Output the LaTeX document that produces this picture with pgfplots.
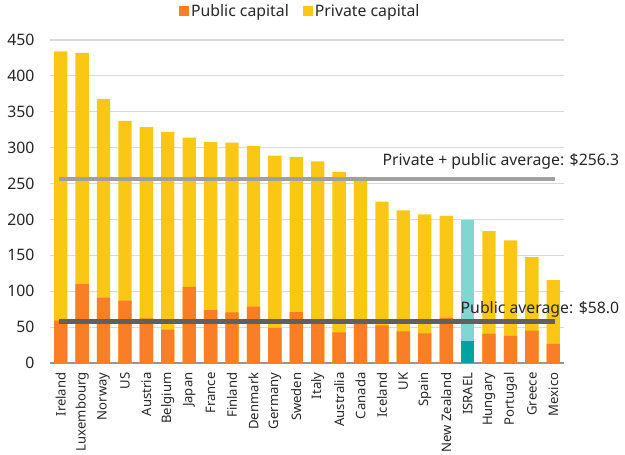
\documentclass[border=0pt]{standalone}
\usepackage{fontspec}
\setmainfont{Noto Sans}
\usepackage{pgfplots}
\usepackage{pgfplotstable}
\pgfplotsset{compat=1.18}
\definecolor{porange}{RGB}{249,126,38}
\definecolor{pyellow}{RGB}{250,199,20}
\definecolor{tdark}{RGB}{0,163,160}
\definecolor{tlight}{RGB}{128,214,211}
\definecolor{gridgray}{RGB}{217,217,217}
\definecolor{axisgray}{RGB}{150,150,150}
\definecolor{avgtop}{RGB}{160,160,160}
\definecolor{avgbot}{RGB}{96,96,96}
\definecolor{txt}{RGB}{38,38,38}
\newcommand\fs{\fontsize{15.8bp}{19bp}\selectfont}
\newcommand\fx{\fontsize{13.1bp}{15bp}\selectfont}
% x total public
\pgfplotstableread{
x total public
0 434 59
1 432 110
2 368 91
3 337.5 87
4 328.7 62
5 322 46.5
6 314 106
7 308 73.5
8 307 70.7
9 302 78.5
10 289 49
11 287 71
12 281 58
13 266.4 42.8
14 259.4 58
15 225 52.5
16 212.5 44
17 207 41.4
18 205 63
20 183.7 41
21 171 37.7
22 147.4 45
23 115.3 26.5
}\capital
\pgfplotstableread{
x total public
19 199.5 30.7
}\israel
\begin{document}
\begin{tikzpicture}
\begin{axis}[
  name=ax, at={(0,0)}, anchor=south west,
  scale only axis, width=514bp, height=323bp,
  xmin=-0.5, xmax=23.5, ymin=0, ymax=450,
  ytick={0,50,...,450},
  xtick={0,...,23},
  xticklabels={Ireland,Luxembourg,Norway,US,Austria,Belgium,Japan,France,Finland,Denmark,Germany,Sweden,Italy,Australia,Canada,Iceland,UK,Spain,New Zealand,ISRAEL,Hungary,Portugal,Greece,Mexico},
  x tick label style={rotate=90, anchor=east, font=\fx, text=txt, xshift=-6bp},
  y tick label style={font=\fs, text=txt, xshift=-12bp},
  /pgf/number format/assume math mode=true,
  major tick length=0pt,
  ymajorgrids, grid style={draw=gridgray, line width=1.2bp},
  axis x line*=bottom, axis y line*=left,
  x axis line style={draw=axisgray, line width=1.6bp, -},
  y axis line style={draw=none},
  clip=false,
  legend columns=2,
  legend style={at={(0.487,1.09)}, anchor=center, draw=none, fill=none, font=\fs, text=txt,
    /tikz/every even column/.append style={column sep=12bp}},
  legend image code/.code={\fill[#1] (0bp,-5bp) rectangle (10bp,5bp);},
]
\addlegendimage{fill=porange, draw=none}
\addlegendentry{Public capital}
\addlegendimage{fill=pyellow, draw=none}
\addlegendentry{Private capital}
\addplot[ybar, bar width=0.62, bar shift=0pt, fill=pyellow, draw=none, forget plot] table[x=x, y=total] {\capital};
\addplot[ybar, bar width=0.62, bar shift=0pt, fill=porange, draw=none, forget plot] table[x=x, y=public] {\capital};
\addplot[ybar, bar width=0.62, bar shift=0pt, fill=tlight, draw=none, forget plot] table[x=x, y=total] {\israel};
\addplot[ybar, bar width=0.62, bar shift=0pt, fill=tdark, draw=none, forget plot] table[x=x, y=public] {\israel};
\addplot[avgtop, line width=4.3bp, forget plot] coordinates {(-0.1,256.3) (23.1,256.3)};
\addplot[avgbot, line width=4.3bp, forget plot] coordinates {(-0.1,58.0) (23.1,58.0)};
\node[anchor=base east, font=\fs, text=txt] at (axis cs:26.24,275.2) {Private + public average: \$256.3};
\node[anchor=base east, font=\fs, text=txt] at (axis cs:26.24,69.3) {Public average: \$58.0};
\end{axis}
\pgfresetboundingbox
\path ([shift={(-50bp,-92bp)}]ax.south west) rectangle ([shift={(61bp,40bp)}]ax.north east);
\end{tikzpicture}
\end{document}
